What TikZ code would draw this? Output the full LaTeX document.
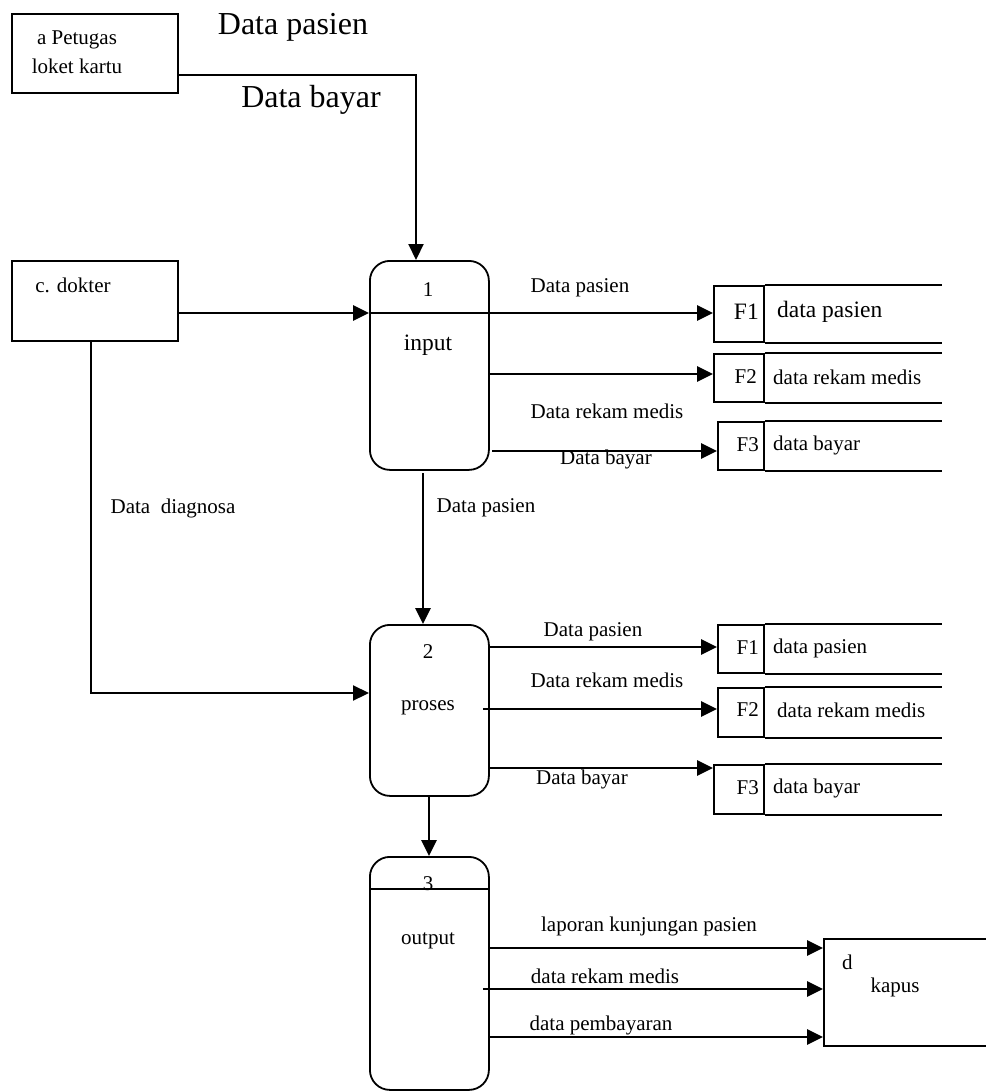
\documentclass[tikz,border=0pt]{standalone}
\usepackage{fontspec}
\setmainfont{Liberation Serif}
\usetikzlibrary{arrows.meta}
\begin{document}
\begin{tikzpicture}[x=1pt,y=-1pt,
  ent/.style={draw,line width=1.8pt,inner sep=0pt,anchor=north west},
  proc/.style={draw,line width=1.8pt,rounded corners=20pt,inner sep=0pt,anchor=north west,minimum width=119pt},
  cell/.style={draw,line width=1.8pt,inner sep=0pt,anchor=north west,minimum width=50pt},
  sline/.style={line width=1.8pt},
  flow/.style={line width=2.7pt,-{Triangle[length=16pt,width=15pt]}},
  link/.style={line width=2pt},
  lbl/.style={inner sep=0pt,font=\fontsize{21}{24}\selectfont},
  mid/.style={inner sep=0pt,font=\fontsize{23.5}{27}\selectfont},
  big/.style={inner sep=0pt,font=\fontsize{32}{36}\selectfont}]
\useasboundingbox (0,0) rectangle (985,1091);
% entities
\node[ent,minimum width=166pt,minimum height=79pt] (a) at (11,13) {};
\node[ent,minimum width=166pt,minimum height=80pt] (c) at (11,260) {};
\node[ent,minimum width=190pt,minimum height=107pt] (d) at (823,938) {};
% processes
\node[proc,minimum height=209pt] (p1) at (369,260) {};
\node[proc,minimum height=171pt] (p2) at (369,624) {};
\node[proc,minimum height=233pt] (p3) at (369,856) {};
% data store cells
\node[cell,minimum height=56pt] (g1a) at (713,285) {};
\node[cell,minimum height=48pt] (g1b) at (713,353) {};
\node[cell,minimum width=46pt,minimum height=48pt] (g1c) at (717,421) {};
\node[cell,minimum width=46pt,minimum height=48pt] (g2a) at (717,624) {};
\node[cell,minimum width=46pt,minimum height=49pt] (g2b) at (717,687) {};
\node[cell,minimum height=49pt] (g2c) at (713,764) {};
\foreach \s in {g1a,g1b,g1c,g2a,g2b,g2c}{
  \draw[sline] (\s.north east) -- ++(177,0);
  \draw[sline] (\s.south east) -- ++(177,0);
}
% dividers
\coordinate (kc) at (0,313);
\coordinate (k3) at (0,889);
\draw[sline] (p1.west |- kc) -- (p1.east |- kc);
\draw[sline] (p3.west |- k3) -- (p3.east |- k3);
% connectors
\coordinate (ka) at (416,75);
\draw[flow,line width=2.2pt] (a.east |- ka) -- (ka) -- (ka |- p1.north);
\draw[flow] (c.east |- kc) -- (p1.west |- kc);
\draw[flow] (p1.east |- kc) -- (g1a.west |- kc);
\coordinate (y2) at (0,374);
\draw[flow] (p1.east |- y2) -- (g1b.west |- y2);
\coordinate (y3) at (492,451);
\draw[flow] (y3) -- (g1c.west |- y3);
\coordinate (x4) at (423,473);
\draw[flow] (x4) -- (x4 |- p2.north);
\coordinate (x5) at (91,693);
\draw[flow,line width=2.2pt] (c.south -| x5) -- (x5) -- (p2.west |- x5);
\coordinate (y6) at (0,647);
\draw[flow] (p2.east |- y6) -- (g2a.west |- y6);
\coordinate (y7) at (483,709);
\draw[flow] (y7) -- (g2b.west |- y7);
\coordinate (y8) at (0,768);
\draw[flow] (p2.east |- y8) -- (g2c.west |- y8);
\coordinate (x9) at (429,0);
\draw[flow] (x9 |- p2.south) -- (x9 |- p3.north);
\coordinate (y10) at (0,948);
\draw[flow] (p3.east |- y10) -- (d.west |- y10);
\coordinate (y11) at (483,989);
\draw[flow] (y11) -- (d.west |- y11);
\coordinate (y12) at (0,1037);
\draw[flow] (p3.east |- y12) -- (d.west |- y12);
% entity texts
\node[lbl] (ta1) at (77,40) {a Petugas};
\node[lbl] (ta2) at (77,66) {loket kartu};
\node[lbl] (tc) at (73,285) {c. dokter};
\node[lbl,anchor=west] (td1) at (842,962) {d};
\node[lbl] (td2) at (895,987) {kapus};
% process texts
\node[lbl] (n1) at (428,290) {1};
\node[mid] (n1b) at (428,345) {input};
\node[lbl] (n2) at (428,652) {2};
\node[lbl] (n2b) at (428,708) {proses};
\node[lbl] (n3) at (428,884) {3};
\node[lbl] (n3b) at (428,941) {output};
% store texts
\node[mid,anchor=east] at (759,312) {F1};
\node[mid,anchor=west] at (777,312) {data pasien};
\node[lbl,anchor=east] at (757,377) {F2};
\node[lbl,anchor=west] at (773,377) {data rekam medis};
\node[lbl,anchor=east] at (759,445) {F3};
\node[lbl,anchor=west] at (773,445) {data bayar};
\node[lbl,anchor=east] at (759,648) {F1};
\node[lbl,anchor=west] at (773,648) {data pasien};
\node[lbl,anchor=east] at (759,710) {F2};
\node[lbl,anchor=west] at (777,710) {data rekam medis};
\node[lbl,anchor=east] at (759,788) {F3};
\node[lbl,anchor=west] at (773,788) {data bayar};
% flow labels
\node[big] at (293,27) {Data pasien};
\node[big] at (311,100) {Data bayar};
\node[lbl] at (580,288) {Data pasien};
\node[lbl] at (607,411) {Data rekam medis};
\node[lbl] at (606,459) {Data bayar};
\node[lbl] at (486,508) {Data pasien};
\node[lbl] at (173,508) {Data\ \ diagnosa};
\node[lbl] at (593,632) {Data pasien};
\node[lbl] at (607,680) {Data rekam medis};
\node[lbl] at (582,779) {Data bayar};
\node[lbl] at (649,926) {laporan kunjungan pasien};
\node[lbl] at (605,976) {data rekam medis};
\node[lbl] at (601,1025) {data pembayaran};
\end{tikzpicture}
\end{document}
